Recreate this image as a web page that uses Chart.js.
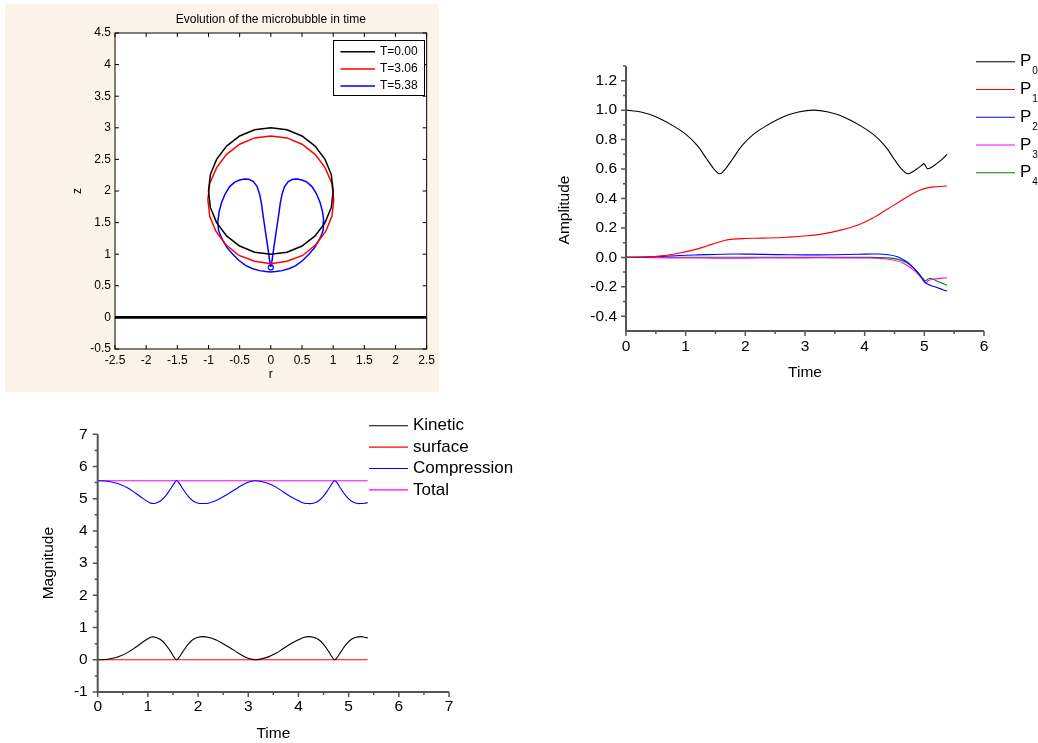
<!DOCTYPE html>
<html>
<head>
<meta charset="utf-8">
<title>Microbubble evolution</title>
<script src="https://cdn.jsdelivr.net/npm/chart.js@4.4.1/dist/chart.umd.min.js"></script>
<style>
  html, body { margin: 0; padding: 0; background: #fff; }
  body { width: 1038px; height: 743px; position: relative; overflow: hidden; }
  canvas { position: absolute; }
  #shape { left: 5px; top: 4px; background: #fcf4e9; }
  #amp { left: 540px; top: 40px; }
  #energy { left: 20px; top: 400px; }
</style>
</head>
<body>
<canvas id="shape" width="434" height="388"></canvas>
<canvas id="amp" width="498" height="350"></canvas>
<canvas id="energy" width="520" height="343"></canvas>
<script>
(function () {
  "use strict";

  var FONT = "'Liberation Sans', Arial, Helvetica, sans-serif";

  // --- bubble shape, (r, z) ---
  var rTicks = [-2.5, -2, -1.5, -1, -0.5, 0, 0.5, 1, 1.5, 2, 2.5];
  var zTicks = [-0.5, 0, 0.5, 1, 1.5, 2, 2.5, 3, 3.5, 4, 4.5];
  var shapeLabels = ["T=0.00", "T=3.06", "T=5.38"];

  var r0 = [0, 0.26, 0.5, 0.71, 0.87, 0.97, 1, 0.97, 0.87, 0.71, 0.5, 0.26, 0, -0.26, -0.5, -0.71, -0.87, -0.97, -1, -0.97, -0.87, -0.71, -0.5, -0.26, 0];
  var z0 = [3, 2.97, 2.87, 2.71, 2.5, 2.26, 2, 1.74, 1.5, 1.29, 1.13, 1.03, 1, 1.03, 1.13, 1.29, 1.5, 1.74, 2, 2.26, 2.5, 2.71, 2.87, 2.97, 3];

  var r1 = [0, 0.26, 0.5, 0.71, 0.87, 0.98, 1.01, 0.98, 0.88, 0.72, 0.51, 0.26, 0, -0.26, -0.51, -0.72, -0.88, -0.98, -1.01, -0.98, -0.87, -0.71, -0.5, -0.26, 0];
  var z1 = [2.87, 2.84, 2.74, 2.58, 2.37, 2.12, 1.86, 1.6, 1.36, 1.15, 0.98, 0.89, 0.85, 0.89, 0.98, 1.15, 1.36, 1.6, 1.86, 2.12, 2.37, 2.58, 2.74, 2.84, 2.87];

  var r2 = [0, 0.02, 0.04, 0.07, 0.1, 0.13, 0.15, 0.18, 0.22, 0.28, 0.35, 0.42, 0.5, 0.58, 0.66, 0.73, 0.79, 0.83, 0.85, 0.84,
    0.81, 0.77, 0.7, 0.61, 0.51, 0.4, 0.29, 0.18, 0.08, 0,
    -0.08, -0.18, -0.29, -0.4, -0.51, -0.61, -0.7, -0.77, -0.81, -0.84, -0.85, -0.83, -0.79, -0.73, -0.66, -0.58, -0.5, -0.42, -0.35,
    -0.28, -0.22, -0.18, -0.15, -0.13, -0.1, -0.07, -0.04, -0.02, 0];
  var z2 = [0.8, 0.9, 1.05, 1.25, 1.45, 1.65, 1.8, 1.95, 2.07, 2.15, 2.185, 2.19, 2.175, 2.14, 2.07, 1.96, 1.82, 1.67, 1.52, 1.38,
    1.3, 1.22, 1.1, 1.0, 0.9, 0.82, 0.77, 0.74, 0.725, 0.72,
    0.725, 0.74, 0.77, 0.82, 0.9, 1.0, 1.1, 1.22, 1.3, 1.38, 1.52, 1.67, 1.82, 1.96, 2.07, 2.14, 2.175, 2.19, 2.185,
    2.15, 2.07, 1.95, 1.8, 1.65, 1.45, 1.25, 1.05, 0.9, 0.8];

  var tipR = [0];
  var tipZ = [0.79];
  var wallR = [-2.5, 2.5];
  var wallZ = [0, 0];

  // --- Legendre mode amplitudes ---
  var ampTimeTicks = [0, 1, 2, 3, 4, 5, 6];
  var ampTimeMinor = [0.5, 1.5, 2.5, 3.5, 4.5, 5.5];
  var ampTicks = [-0.4, -0.2, 0, 0.2, 0.4, 0.6, 0.8, 1.0, 1.2];
  var ampMinor = [-0.3, -0.1, 0.1, 0.3, 0.5, 0.7, 0.9, 1.1, 1.3];
  var ampLabels = ["P0", "P1", "P2", "P3", "P4"];

  var p0T = [0, 0.25, 0.5, 0.75, 1.0, 1.2, 1.35, 1.45, 1.51, 1.57, 1.63, 1.69, 1.79, 1.94, 2.14, 2.39, 2.64, 2.89, 3.14, 3.39,
    3.64, 3.89, 4.14, 4.34, 4.49, 4.59, 4.66, 4.72, 4.78, 4.86, 4.94, 4.99, 5.02, 5.05, 5.1, 5.2, 5.3, 5.38];
  var p0V = [1.0, 0.987, 0.955, 0.903, 0.837, 0.757, 0.67, 0.613, 0.584, 0.568, 0.584, 0.613, 0.67, 0.757, 0.837, 0.903, 0.955, 0.987, 1.0, 0.987,
    0.955, 0.903, 0.837, 0.757, 0.67, 0.613, 0.584, 0.568, 0.576, 0.597, 0.62, 0.635, 0.622, 0.603, 0.607, 0.635, 0.668, 0.70];

  var p1T = [0, 0.3, 0.6, 0.9, 1.2, 1.45, 1.65, 1.8, 2.0, 2.3, 2.7, 3.0, 3.3, 3.6, 3.9, 4.15, 4.35, 4.55, 4.75, 4.9, 5.05, 5.2, 5.38];
  var p1V = [0, 0.002, 0.01, 0.03, 0.058, 0.09, 0.115, 0.124, 0.128, 0.131, 0.137, 0.145, 0.16, 0.185, 0.222, 0.27, 0.32, 0.37, 0.42, 0.452, 0.472, 0.48, 0.485];

  var p2T = [0, 0.3, 0.6, 0.9, 1.2, 1.5, 1.8, 2.1, 2.5, 3.0, 3.5, 3.9, 4.2, 4.4, 4.55, 4.7, 4.8, 4.9, 4.97, 5.02, 5.06, 5.12, 5.2, 5.3, 5.38];
  var p2V = [0, 0.002, 0.007, 0.013, 0.017, 0.02, 0.023, 0.022, 0.019, 0.017, 0.018, 0.021, 0.023, 0.018, 0.004, -0.028, -0.062, -0.108, -0.148, -0.172, -0.182, -0.192, -0.203, -0.218, -0.229];

  var p3T = [0, 0.5, 1.0, 1.5, 2.0, 2.5, 3.0, 3.5, 4.0, 4.3, 4.5, 4.65, 4.8, 4.9, 4.97, 5.02, 5.06, 5.12, 5.2, 5.3, 5.38];
  var p3V = [0, -0.002, -0.004, -0.005, -0.005, -0.004, -0.003, -0.003, -0.004, -0.008, -0.02, -0.04, -0.08, -0.115, -0.15, -0.175, -0.16, -0.15, -0.145, -0.141, -0.138];

  var p4T = [0, 1.0, 2.0, 3.0, 4.0, 4.4, 4.55, 4.7, 4.8, 4.9, 4.98, 5.02, 5.06, 5.1, 5.2, 5.3, 5.38];
  var p4V = [0, 0.001, 0.001, 0, 0, -0.003, -0.012, -0.035, -0.065, -0.105, -0.145, -0.158, -0.148, -0.143, -0.158, -0.176, -0.19];

  // --- energies ---
  var enTimeTicks = [0, 1, 2, 3, 4, 5, 6, 7];
  var enTimeMinor = [0.5, 1.5, 2.5, 3.5, 4.5, 5.5, 6.5];
  var magTicks = [-1, 0, 1, 2, 3, 4, 5, 6, 7];
  var magMinor = [-0.5, 0.5, 1.5, 2.5, 3.5, 4.5, 5.5, 6.5];
  var energyLabels = ["Kinetic", "surface", "Compression", "Total"];

  var energyT = [0, 0.15, 0.3, 0.45, 0.6, 0.75, 0.9, 1.0, 1.07, 1.15, 1.25, 1.35, 1.45, 1.52, 1.57, 1.62, 1.7, 1.8, 1.9, 2.0,
    2.09, 2.2, 2.35, 2.5, 2.65, 2.8, 2.95, 3.05, 3.14, 3.25, 3.4, 3.55, 3.7, 3.85, 4.0, 4.1, 4.2, 4.3, 4.4, 4.5,
    4.6, 4.67, 4.72, 4.77, 4.85, 4.95, 5.05, 5.15, 5.25, 5.32, 5.38];
  var kinetic = [0, 0.01, 0.05, 0.12, 0.23, 0.38, 0.55, 0.65, 0.705, 0.7, 0.63, 0.48, 0.26, 0.09, 0, 0.07, 0.26, 0.48, 0.63, 0.7,
    0.72, 0.7, 0.62, 0.5, 0.36, 0.21, 0.08, 0.025, 0, 0.025, 0.09, 0.2, 0.35, 0.5, 0.62, 0.69, 0.72, 0.7, 0.63, 0.48,
    0.26, 0.09, 0, 0.07, 0.26, 0.48, 0.63, 0.7, 0.72, 0.7, 0.68];
  var compression = [5.56, 5.55, 5.51, 5.44, 5.33, 5.18, 5.01, 4.91, 4.855, 4.86, 4.93, 5.08, 5.3, 5.47, 5.56, 5.49, 5.3, 5.08, 4.93, 4.86,
    4.85, 4.86, 4.94, 5.06, 5.2, 5.35, 5.48, 5.535, 5.56, 5.535, 5.47, 5.36, 5.21, 5.06, 4.94, 4.87, 4.85, 4.86, 4.93, 5.08,
    5.3, 5.47, 5.56, 5.49, 5.3, 5.08, 4.93, 4.86, 4.85, 4.86, 4.88];
  var surfaceT = [0, 5.38];
  var surface = [0, 0];
  var totalT = [0, 5.38];
  var total = [5.56, 5.56];

  function pts(xs, ys) {
    return xs.map(function (x, i) {
      return { x: x, y: ys[i] };
    });
  }

  function line(label, xs, ys, color, width, smooth) {
    return {
      label: label,
      data: pts(xs, ys),
      showLine: true,
      borderColor: color,
      backgroundColor: color,
      borderWidth: width,
      pointRadius: 0,
      pointHoverRadius: 0,
      fill: false,
      tension: smooth ? 0.4 : 0
    };
  }

  function axis(o) {
    return {
      type: "linear",
      min: o.min,
      max: o.max,
      afterBuildTicks: function (scale) {
        scale.ticks = o.ticks.map(function (v) { return { value: v }; });
      },
      afterFit: function (scale) {
        if (scale.isHorizontal()) scale.height = o.size;
        else scale.width = o.size;
      },
      grid: { display: false, drawTicks: false },
      border: { display: false },
      ticks: {
        color: "#000",
        autoSkip: false,
        maxRotation: 0,
        padding: o.pad,
        font: { family: FONT, size: o.fontSize },
        callback: o.format || function (v) { return String(v); }
      },
      title: o.title
        ? {
            display: true,
            text: o.title,
            color: "#000",
            font: { family: FONT, size: o.fontSize },
            padding: o.titlePad || { top: 4, bottom: 4 }
          }
        : { display: false }
    };
  }

  // frame, tick marks, legend and loose texts drawn on top of the chart
  function deco(cfg) {
    return {
      id: "panelDeco",
      beforeDraw: function (chart) {
        if (!cfg.plotBg) return;
        var a = chart.chartArea, ctx = chart.ctx;
        ctx.save();
        ctx.fillStyle = cfg.plotBg;
        ctx.fillRect(a.left, a.top, a.right - a.left, a.bottom - a.top);
        ctx.restore();
      },
      afterDraw: function (chart) {
        var a = chart.chartArea, ctx = chart.ctx;
        ctx.save();
        if (cfg.frame) {
          ctx.strokeStyle = cfg.frame.color;
          ctx.lineWidth = cfg.frame.width;
          ctx.strokeRect(a.left, a.top, a.right - a.left, a.bottom - a.top);
        }
        (cfg.axisLines || []).forEach(function (l) {
          ctx.strokeStyle = l.color;
          ctx.lineWidth = l.width;
          ctx.beginPath();
          if (l.side === "left") {
            ctx.moveTo(a.left, a.top);
            ctx.lineTo(a.left, a.bottom + l.width / 2);
          } else {
            ctx.moveTo(a.left - l.width / 2, a.bottom);
            ctx.lineTo(a.right, a.bottom);
          }
          ctx.stroke();
        });
        (cfg.ticks || []).forEach(function (t) {
          var scale = chart.scales[t.scale];
          ctx.strokeStyle = t.color;
          ctx.lineWidth = t.width;
          ctx.beginPath();
          t.values.forEach(function (v) {
            var p = scale.getPixelForValue(v);
            if (t.side === "bottom") { ctx.moveTo(p, a.bottom); ctx.lineTo(p, a.bottom + t.len); }
            else if (t.side === "top") { ctx.moveTo(p, a.top); ctx.lineTo(p, a.top - t.len); }
            else if (t.side === "left") { ctx.moveTo(a.left, p); ctx.lineTo(a.left - t.len, p); }
            else { ctx.moveTo(a.right, p); ctx.lineTo(a.right + t.len, p); }
          });
          ctx.stroke();
        });
        var L = cfg.legend;
        if (L) {
          if (L.box) {
            ctx.fillStyle = "#fff";
            ctx.fillRect(L.box[0], L.box[1], L.box[2], L.box[3]);
            ctx.strokeStyle = "#000";
            ctx.lineWidth = 1;
            ctx.strokeRect(L.box[0] + 0.5, L.box[1] + 0.5, L.box[2], L.box[3]);
          }
          L.items.forEach(function (idx, i) {
            var ds = chart.data.datasets[idx];
            var y = L.y0 + i * L.dy;
            ctx.strokeStyle = ds.borderColor;
            ctx.lineWidth = L.lineWidth;
            ctx.beginPath();
            ctx.moveTo(L.x0, y);
            ctx.lineTo(L.x1, y);
            ctx.stroke();
            ctx.fillStyle = "#000";
            ctx.textAlign = "left";
            ctx.textBaseline = "middle";
            ctx.font = L.font;
            if (L.subFont) {
              var head = ds.label.charAt(0);
              ctx.fillText(head, L.textX, y);
              var w = ctx.measureText(head).width;
              ctx.font = L.subFont;
              ctx.fillText(ds.label.slice(1), L.textX + w + 1, y + L.subDy);
            } else {
              ctx.fillText(ds.label, L.textX, y);
            }
          });
        }
        (cfg.texts || []).forEach(function (t) {
          ctx.save();
          ctx.translate(t.x, t.y);
          ctx.rotate(t.rotate || 0);
          ctx.font = t.font;
          ctx.fillStyle = "#000";
          ctx.textAlign = "center";
          ctx.textBaseline = "middle";
          ctx.fillText(t.text, 0, 0);
          ctx.restore();
        });
        ctx.restore();
      }
    };
  }

  var common = {
    responsive: false,
    animation: false,
    events: [],
    plugins: { legend: { display: false }, tooltip: { enabled: false } }
  };

  function opts(extra) {
    var o = Object.assign({}, common, extra);
    o.plugins = Object.assign({}, common.plugins, extra.plugins || {});
    return o;
  }

  // --- Panel 1: bubble shapes ---
  var tipSet = {
    label: "tip",
    data: pts(tipR, tipZ),
    showLine: false,
    pointRadius: 2.5,
    pointBorderWidth: 1.2,
    pointBorderColor: "#0000ff",
    pointBackgroundColor: "#fff"
  };
  new Chart(document.getElementById("shape"), {
    type: "scatter",
    data: {
      datasets: [
        line(shapeLabels[0], r0, z0, "#000000", 1.5, false),
        line(shapeLabels[1], r1, z1, "#ff0000", 1.5, false),
        line(shapeLabels[2], r2, z2, "#0000ff", 1.5, false),
        tipSet,
        line("wall", wallR, wallZ, "#000000", 2.8, false)
      ]
    },
    options: opts({
      layout: { padding: { left: 61, right: 10.5, top: 0, bottom: 6 } },
      plugins: {
        title: {
          display: true,
          text: "Evolution of the microbubble in time",
          fullSize: false,
          color: "#000",
          font: { family: FONT, size: 12, weight: "normal" },
          padding: { top: 8.8, bottom: 5.8 }
        }
      },
      scales: {
        x: axis({ min: -2.5, max: 2.5, ticks: rTicks, size: 37, pad: 4, fontSize: 12, title: "r" }),
        y: axis({ min: -0.5, max: 4.5, ticks: zTicks, size: 49, pad: 4, fontSize: 12, title: "z" })
      }
    }),
    plugins: [deco({
      plotBg: "#ffffff",
      frame: { color: "#000", width: 1 },
      ticks: [
        { scale: "x", side: "bottom", values: rTicks, len: -4, color: "#000", width: 1 },
        { scale: "x", side: "top", values: rTicks, len: -4, color: "#000", width: 1 },
        { scale: "y", side: "left", values: zTicks, len: -4, color: "#000", width: 1 },
        { scale: "y", side: "right", values: zTicks, len: -4, color: "#000", width: 1 }
      ],
      legend: {
        box: [328, 36, 91, 55],
        items: [0, 1, 2],
        x0: 335.5, x1: 370, textX: 375, y0: 47.7, dy: 17.2,
        lineWidth: 1.5,
        font: "12px " + FONT
      }
    })]
  });

  // --- Panel 2: mode amplitudes ---
  var ampColors = ["#000000", "#ff0000", "#0000ff", "#ff00ff", "#008000"];
  var ampT = [p0T, p1T, p2T, p3T, p4T];
  var ampV = [p0V, p1V, p2V, p3V, p4V];
  new Chart(document.getElementById("amp"), {
    type: "scatter",
    data: {
      datasets: ampLabels.map(function (lab, i) {
        return line(lab, ampT[i], ampV[i], ampColors[i], 1.1, true);
      })
    },
    options: opts({
      layout: { padding: { left: 0, right: 54, top: 26, bottom: 4 } },
      scales: {
        x: axis({ min: 0, max: 6, ticks: ampTimeTicks, size: 55, pad: 6.4, fontSize: 15.5, title: "Time" }),
        y: axis({
          min: -0.5, max: 1.3, ticks: ampTicks, size: 86, pad: 9, fontSize: 15.5,
          format: function (v) { return v.toFixed(1); }
        })
      }
    }),
    plugins: [deco({
      axisLines: [
        { side: "left", color: "#555", width: 2 },
        { side: "bottom", color: "#555", width: 2 }
      ],
      ticks: [
        { scale: "x", side: "bottom", values: ampTimeTicks, len: 5, color: "#555", width: 1.5 },
        { scale: "x", side: "bottom", values: ampTimeMinor, len: 3, color: "#555", width: 1.5 },
        { scale: "y", side: "left", values: ampTicks, len: 5, color: "#555", width: 1.5 },
        { scale: "y", side: "left", values: ampMinor, len: 3, color: "#555", width: 1.5 }
      ],
      legend: {
        items: [0, 1, 2, 3, 4],
        x0: 436, x1: 475, textX: 480, y0: 21.7, dy: 27.75,
        lineWidth: 1.1,
        font: "17px " + FONT,
        subFont: "10px " + FONT,
        subDy: 10
      },
      texts: [{ text: "Amplitude", x: 25, y: 170, rotate: -Math.PI / 2, font: "15.5px " + FONT }]
    })]
  });

  // --- Panel 3: energies ---
  new Chart(document.getElementById("energy"), {
    type: "scatter",
    data: {
      datasets: [
        line(energyLabels[0], energyT, kinetic, "#000000", 1.1, true),
        line(energyLabels[1], surfaceT, surface, "#ff0000", 1.1, false),
        line(energyLabels[2], energyT, compression, "#0000ff", 1.1, true),
        line(energyLabels[3], totalT, total, "#ff00ff", 1.1, false)
      ]
    },
    options: opts({
      layout: { padding: { left: 15, right: 91, top: 34.3, bottom: 0 } },
      scales: {
        x: axis({ min: 0, max: 7, ticks: enTimeTicks, size: 51, pad: 5.7, fontSize: 15.5, title: "Time", titlePad: { top: 4, bottom: 0 } }),
        y: axis({ min: -1, max: 7, ticks: magTicks, size: 62.7, pad: 10, fontSize: 15.5, title: "Magnitude" })
      }
    }),
    plugins: [deco({
      axisLines: [
        { side: "left", color: "#555", width: 2 },
        { side: "bottom", color: "#555", width: 2 }
      ],
      ticks: [
        { scale: "x", side: "bottom", values: enTimeTicks, len: 5, color: "#555", width: 1.5 },
        { scale: "x", side: "bottom", values: enTimeMinor, len: 3, color: "#555", width: 1.5 },
        { scale: "y", side: "left", values: magTicks, len: 5, color: "#555", width: 1.5 },
        { scale: "y", side: "left", values: magMinor, len: 3, color: "#555", width: 1.5 }
      ],
      legend: {
        items: [0, 1, 2, 3],
        x0: 349, x1: 388, textX: 393, y0: 25.7, dy: 21.4,
        lineWidth: 1.1,
        font: "17px " + FONT
      }
    })]
  });
})();
</script>
</body>
</html>
